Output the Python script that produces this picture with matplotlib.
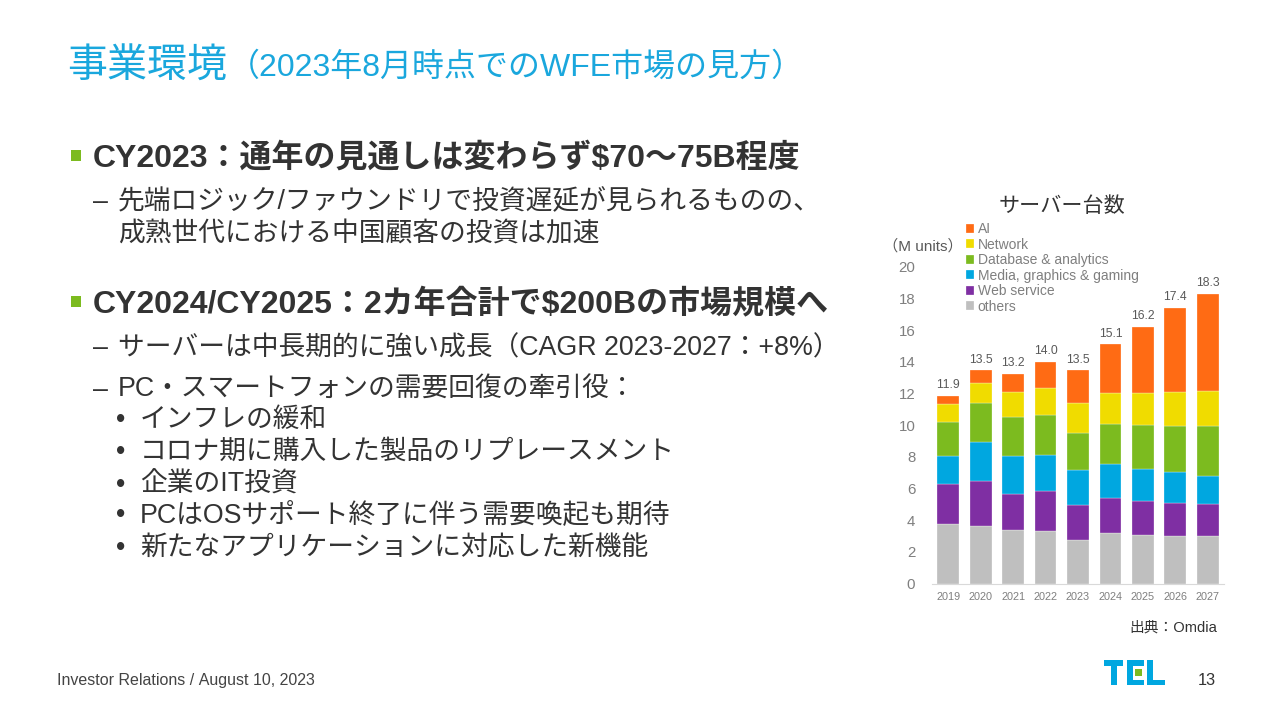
import matplotlib
matplotlib.use("Agg")
import matplotlib.pyplot as plt
import numpy as np
from matplotlib.patches import Rectangle

plt.rcParams["font.family"] = ["Liberation Sans", "Noto Sans CJK JP", "DejaVu Sans"]
plt.rcParams["text.kerning_factor"] = 6

years = ["2019", "2020", "2021", "2022", "2023", "2024", "2025", "2026", "2027"]
totals = [11.9, 13.5, 13.2, 14.0, 13.5, 15.1, 16.2, 17.4, 18.3]
others = [3.79, 3.62, 3.39, 3.33, 2.72, 3.22, 3.05, 2.99, 2.99]
web_service = [2.48, 2.86, 2.27, 2.52, 2.23, 2.19, 2.17, 2.10, 2.02]
media = [1.79, 2.49, 2.40, 2.28, 2.23, 2.15, 2.02, 1.96, 1.79]
database = [2.13, 2.44, 2.47, 2.52, 2.34, 2.52, 2.76, 2.93, 3.14]
network = [1.13, 1.27, 1.54, 1.72, 1.86, 1.97, 2.05, 2.14, 2.20]
ai = [0.52, 0.79, 1.16, 1.62, 2.09, 3.05, 4.15, 5.28, 6.16]

series_names = ["others", "Web service", "Media, graphics & gaming",
                "Database & analytics", "Network", "AI"]
series_values = [others, web_service, media, database, network, ai]
series_colors = ["#BFBFBF", "#7F2FA3", "#00A7E0", "#7CBB1F", "#F0DC00", "#FF6B14"]
y_ticks = [0, 2, 4, 6, 8, 10, 12, 14, 16, 18, 20]

W, H = 1261, 702
BLUE = "#1AA7DD"
DARK = "#333333"
GREY = "#7F7F7F"

fig = plt.figure(figsize=(W / 100, H / 100), dpi=100, facecolor="white")

# slide layer in pixel coordinates
bg = fig.add_axes([0, 0, 1, 1])
bg.set_xlim(0, W)
bg.set_ylim(H, 0)
bg.axis("off")


def txt(x, y, s, size, color=DARK, **kw):
    # y is the baseline, so lines with and without kanji stay level
    bg.text(x, y, s, fontsize=size, color=color, va="baseline", **kw)


txt(67, 77.5, "事業環境", 28.8, BLUE)
txt(228, 76, "（2023年8月時点でのWFE市場の見方）", 23, BLUE)

for y, head in [(167, "CY2023：通年の見通しは変わらず$70～75B程度"),
                (313, "CY2024/CY2025：2カ年合計で$200Bの市場規模へ")]:
    bg.add_patch(Rectangle((71, y - 17), 9.5, 10.5, color="#7CBB1F", lw=0))
    txt(93, y, head, 23, fontweight="bold")

for y in [209, 355, 397]:
    txt(93, y, "–", 19.25)
txt(118, 209, "先端ロジック/ファウンドリで投資遅延が見られるものの、", 19.25)
txt(118, 241.5, "成熟世代における中国顧客の投資は加速", 19.25)
txt(118, 355, "サーバーは中長期的に強い成長（CAGR 2023-2027：+8%）", 19.25)
txt(118, 397, "PC・スマートフォンの需要回復の牽引役：", 19.25)

sub_items = ["インフレの緩和", "コロナ期に購入した製品のリプレースメント", "企業のIT投資",
             "PCはOSサポート終了に伴う需要喚起も期待", "新たなアプリケーションに対応した新機能"]
for y, item in zip([427, 459, 492, 522, 555], sub_items):
    txt(116, y, "•", 19.25)
    txt(140, y, item, 19.25)

txt(57, 685, "Investor Relations / August 10, 2023", 11.5, "#444444")
txt(1198, 685, "13", 11.8)
txt(1129, 632, "出典：Omdia", 10.6, DARK)
txt(1061.5, 212, "サーバー台数", 15.2, DARK, ha="center")
txt(923, 251, "（M units）", 11, "#595959", ha="center")

# TEL logo
for x, y, w, h in [(1104, 660, 19, 6), (1110.5, 660, 6, 25),
                   (1127, 660, 6, 25), (1127, 660, 17, 5.5), (1127, 679.5, 17, 5.5),
                   (1147, 660, 6, 25), (1147, 679.5, 18, 5.5)]:
    bg.add_patch(Rectangle((x, y), w, h, color="#00A7E0", lw=0))
bg.add_patch(Rectangle((1135, 669), 6.5, 6.5, color="#7CBB1F", lw=0))

# chart
ax = fig.add_axes([932 / W, 1 - 583.5 / H, 292 / W, 316.6 / H])
ax.patch.set_alpha(0)
x = np.arange(len(years))
bottom = np.zeros(len(years))
handles = []
for name, vals, col in zip(series_names, series_values, series_colors):
    b = ax.bar(x, vals, 0.67, bottom=bottom, color=col, label=name,
               edgecolor="white", linewidth=0.2)
    bottom = bottom + np.array(vals)
    handles.append(b)

for xi, top, total in zip(x, bottom, totals):
    ax.text(xi, top + 0.3, f"{total:.1f}", ha="center", va="bottom",
            fontsize=8.7, color="#595959")

ax.set_xlim(-0.5, 8.5)
ax.set_ylim(0, 20)
ax.set_xticks(x, years)
ax.set_yticks(y_ticks)
ax.tick_params(axis="x", length=0, labelsize=7.8, labelcolor=GREY, pad=6)
ax.tick_params(axis="y", length=0, labelsize=10.8, labelcolor=GREY, pad=12)
for side in ["top", "right", "left"]:
    ax.spines[side].set_visible(False)
ax.spines["bottom"].set_color("#D9D9D9")

leg = ax.legend(handles[::-1], series_names[::-1], loc="upper left",
                bbox_to_anchor=(965.5 / W, 1 - 222 / H), bbox_transform=fig.transFigure,
                frameon=False, fontsize=10, labelcolor=GREY, borderpad=0, borderaxespad=0,
                handlelength=0.62, handleheight=0.62, handletextpad=0.25, labelspacing=0.11)

fig.savefig("out.png", dpi=100)
